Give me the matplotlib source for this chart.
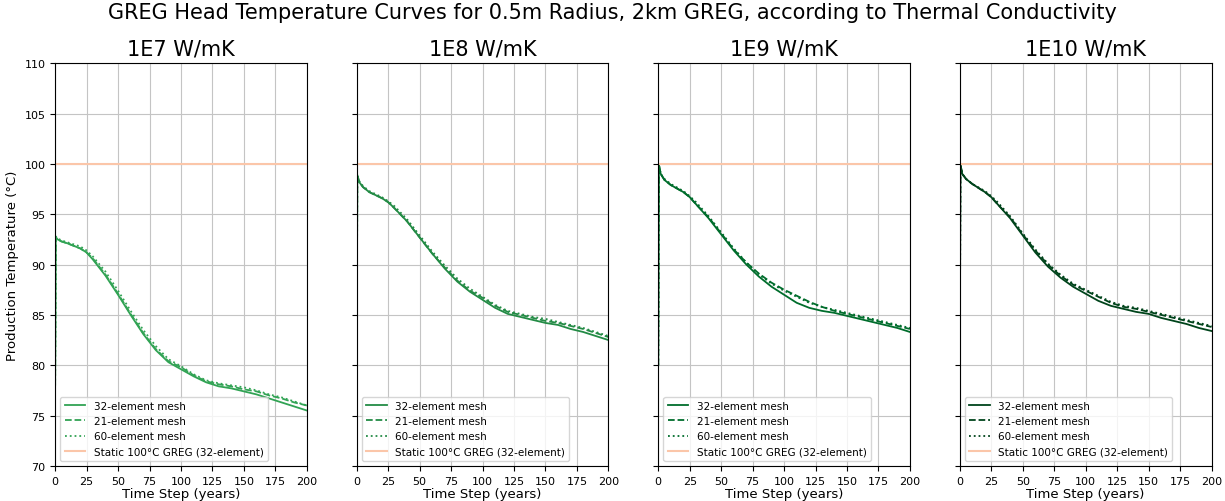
import matplotlib
matplotlib.use("Agg")
import matplotlib.pyplot as plt

# time grid (years)
years = [0, 0.5, 2, 5, 10, 20, 25, 30, 40, 50, 60, 70, 80, 90, 100,
         110, 120, 130, 140, 150, 160, 170, 180, 190, 200]

conductivities = ["1E7 W/mK", "1E8 W/mK", "1E9 W/mK", "1E10 W/mK"]
panel_colors = ["#31a354", "#238b45", "#006d2c", "#00441b"]
static_temp = 100

# 32-element mesh
mesh32 = [
    [78, 92.7, 92.5, 92.3, 92.1, 91.6, 91.2, 90.5, 88.9, 87.0, 85.0, 83.1, 81.5, 80.3, 79.6,
     78.9, 78.3, 77.9, 77.7, 77.4, 77.1, 76.7, 76.3, 75.9, 75.5],
    [80, 98.9, 98.2, 97.7, 97.2, 96.6, 96.2, 95.6, 94.3, 92.7, 91.1, 89.6, 88.3, 87.3, 86.5,
     85.7, 85.1, 84.8, 84.5, 84.2, 84.0, 83.6, 83.3, 82.9, 82.5],
    [80, 99.9, 99.0, 98.4, 97.9, 97.2, 96.7, 96.0, 94.6, 93.0, 91.4, 90.0, 88.8, 87.8, 87.0,
     86.2, 85.7, 85.4, 85.2, 84.9, 84.6, 84.3, 84.0, 83.7, 83.3],
    [80, 99.9, 99.0, 98.5, 98.0, 97.2, 96.7, 96.0, 94.6, 92.9, 91.2, 89.8, 88.7, 87.8, 87.1,
     86.4, 85.9, 85.6, 85.3, 85.1, 84.7, 84.4, 84.1, 83.7, 83.4],
]

# 21-element mesh
mesh21 = [
    [78, 92.7, 92.5, 92.3, 92.1, 91.6, 91.2, 90.6, 89.0, 87.1, 85.1, 83.2, 81.6, 80.4, 79.8,
     79.0, 78.4, 78.1, 77.9, 77.6, 77.4, 77.0, 76.7, 76.3, 76.0],
    [80, 98.9, 98.2, 97.7, 97.2, 96.6, 96.2, 95.6, 94.3, 92.7, 91.1, 89.7, 88.4, 87.4, 86.7,
     85.9, 85.3, 85.0, 84.7, 84.4, 84.2, 83.9, 83.6, 83.2, 82.8],
    [80, 99.9, 99.0, 98.4, 97.9, 97.2, 96.7, 96.0, 94.7, 93.1, 91.5, 90.2, 89.1, 88.2, 87.5,
     86.9, 86.3, 85.8, 85.4, 85.1, 84.8, 84.5, 84.2, 83.9, 83.6],
    [80, 99.9, 99.0, 98.5, 98.0, 97.2, 96.7, 96.0, 94.7, 93.0, 91.4, 90.0, 88.9, 88.0, 87.4,
     86.8, 86.2, 85.8, 85.6, 85.3, 85.0, 84.7, 84.4, 84.1, 83.8],
]

# 60-element mesh
mesh60 = [
    [78, 92.8, 92.6, 92.4, 92.2, 91.8, 91.4, 90.8, 89.3, 87.4, 85.4, 83.5, 81.9, 80.6, 79.9,
     79.1, 78.5, 78.2, 78.0, 77.8, 77.5, 77.1, 76.8, 76.4, 76.0],
    [80, 98.9, 98.3, 97.8, 97.3, 96.7, 96.3, 95.8, 94.5, 92.9, 91.3, 89.9, 88.6, 87.6, 86.8,
     86.0, 85.4, 85.1, 84.8, 84.6, 84.3, 84.0, 83.7, 83.3, 82.9],
    [80, 99.9, 99.0, 98.5, 98.0, 97.3, 96.8, 96.2, 94.8, 93.2, 91.6, 90.2, 89.0, 88.1, 87.4,
     86.8, 86.2, 85.8, 85.5, 85.2, 84.9, 84.6, 84.3, 84.0, 83.7],
    [80, 99.9, 99.0, 98.5, 98.0, 97.3, 96.8, 96.2, 94.8, 93.1, 91.5, 90.1, 89.0, 88.1, 87.5,
     86.9, 86.3, 85.9, 85.7, 85.4, 85.1, 84.8, 84.5, 84.2, 83.9],
]


fig, axes = plt.subplots(1, 4, figsize=(12.25, 5.02), dpi=100, sharey=True)
fig.subplots_adjust(left=0.045, right=0.989, top=0.872, bottom=0.07, wspace=0.198)

for i, ax in enumerate(axes):
    c = panel_colors[i]
    ax.plot(years, mesh32[i], color=c, lw=1.3, label="32-element mesh")
    ax.plot(years, mesh21[i], color=c, lw=1.3, ls="--", label="21-element mesh")
    ax.plot(years, mesh60[i], color=c, lw=1.3, ls=":", label="60-element mesh")
    ax.plot([years[0], years[-1]], [static_temp, static_temp], color="#fbc6a9", lw=1.5,
            label="Static 100°C GREG (32-element)")

    ax.set_title(conductivities[i], fontsize=15)
    ax.set_xlim(0, 200)
    ax.set_ylim(70, 110)
    ax.set_xticks(range(0, 201, 25))
    ax.set_yticks(range(70, 111, 5))
    ax.tick_params(labelsize=8)
    ax.grid(True, color="#c4c4c4", lw=0.8)
    ax.set_xlabel("Time Step (years)", fontsize=9.5, labelpad=1)
    ax.legend(loc="lower left", fontsize=7.5)

axes[0].set_ylabel("Production Temperature (°C)", fontsize=9.5)
fig.suptitle("GREG Head Temperature Curves for 0.5m Radius, 2km GREG, according to Thermal Conductivity",
             fontsize=15, y=0.995)

fig.savefig("out.png", dpi=100)
